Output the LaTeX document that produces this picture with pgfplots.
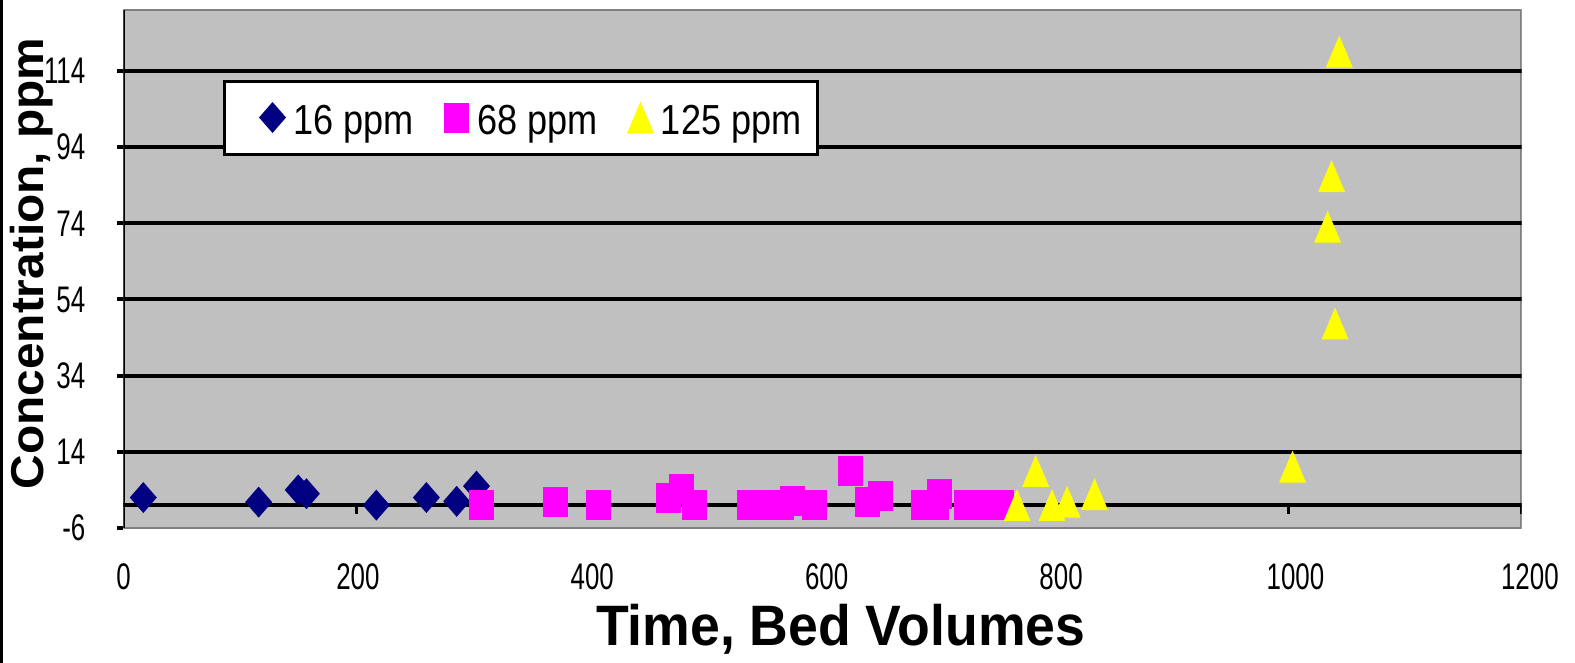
\documentclass[border=0pt]{standalone}
\usepackage{pgfplots}
\pgfplotsset{compat=1.18}
\usepackage{fontspec}
\setmainfont{Liberation Sans}
\newfontfamily\narrowfont[FakeStretch=0.7]{Liberation Sans}
\newfontfamily\legfont[FakeStretch=0.86]{Liberation Sans}
\newfontfamily\xtitlefont[FakeStretch=0.94]{Liberation Sans}
\newfontfamily\ytitlefont[FakeStretch=1.04]{Liberation Sans}

\definecolor{navyc}{RGB}{0,0,128}
\definecolor{magc}{RGB}{255,0,255}
\definecolor{yelc}{RGB}{255,255,0}
\definecolor{bgc}{RGB}{192,192,192}
\definecolor{bordc}{RGB}{128,128,128}

\pgfdeclareplotmark{xdiam}{%
  \pgfpathmoveto{\pgfpoint{0bp}{15.5bp}}%
  \pgfpathlineto{\pgfpoint{13.5bp}{0bp}}%
  \pgfpathlineto{\pgfpoint{0bp}{-15.5bp}}%
  \pgfpathlineto{\pgfpoint{-13.5bp}{0bp}}%
  \pgfpathclose\pgfusepathqfill}
\pgfdeclareplotmark{xsq}{%
  \pgfpathrectangle{\pgfpoint{-12.5bp}{-15bp}}{\pgfpoint{25bp}{30bp}}%
  \pgfusepathqfill}
\pgfdeclareplotmark{xtri}{%
  \pgfpathmoveto{\pgfpoint{0bp}{16bp}}%
  \pgfpathlineto{\pgfpoint{13.5bp}{-16bp}}%
  \pgfpathlineto{\pgfpoint{-13.5bp}{-16bp}}%
  \pgfpathclose\pgfusepathqfill}

\begin{document}
\begin{tikzpicture}
\begin{axis}[
  scale only axis, width=1398bp, height=518bp,
  xmin=0, xmax=1200, ymin=-6, ymax=130,
  xtick={0,200,400,600,800,1000,1200},
  xticklabels={0,200,400,600,800,1000,1200},
  ytick={-6,14,34,54,74,94,114},
  yticklabels={-6,14,34,54,74,94,114},
  axis line style={draw=none},
  axis background/.style={fill=bgc},
  tick align=outside,
  ytick pos=left, xtick pos=bottom,
  major tick length=6bp,
  xtick style={draw=none},
  ytick style={black, line width=4bp},
  xticklabel style={font=\narrowfont\fontsize{37bp}{39bp}\selectfont, inner sep=0pt, yshift=-29bp, xshift=1.4bp*\ticknum},
  yticklabel style={font=\narrowfont\fontsize{37bp}{39bp}\selectfont, inner sep=0pt, xshift=-32bp},
  xlabel={Time, Bed Volumes},
  ylabel={Concentration, ppm},
  every axis x label/.style={at={(axis description cs:0.513,-0.2259)}, anchor=base, inner sep=0pt, font=\xtitlefont\bfseries\fontsize{57bp}{59bp}\selectfont},
  every axis y label/.style={at={(axis description cs:-0.0572,0.5106)}, rotate=90, anchor=base, inner sep=0pt, font=\ytitlefont\bfseries\fontsize{46bp}{48bp}\selectfont},
  legend columns=3,
  legend style={at={(axis description cs:0.0712,0.8658)}, anchor=north west,
    draw=black, line width=3bp, fill=white, inner xsep=16bp, inner ysep=8bp,
    font=\legfont\fontsize{42bp}{44bp}\selectfont,
    nodes={inner sep=0pt, text height=45.5bp, text depth=11.5bp},
    cells={anchor=center},
    /tikz/every odd column/.append style={column sep=6.5bp},
    /tikz/every even column/.append style={column sep=11bp}},
  legend image code/.code={\path (-18bp,0bp) (25bp,0bp);
    \draw[mark repeat=2,mark phase=2,#1] plot coordinates {(0bp,0bp) (12.5bp,0bp) (25bp,0bp)};},
]
% frame and grid (under the markers)
\draw[bordc, line width=3bp] (rel axis cs:0,1) -- (rel axis cs:1,1) -- (rel axis cs:1,0) -- (rel axis cs:0,0);
\pgfplotsinvokeforeach{14,34,54,74,94,114}{\draw[black, line width=4bp] (axis cs:0,#1) -- (axis cs:1200,#1);}
\draw[black, line width=4bp] (axis cs:0,0) -- (axis cs:1200,0);
\pgfplotsinvokeforeach{200,400,600,800,1000,1200}{\draw[black, line width=3.5bp] (axis cs:#1,0) -- ++(0bp,-9bp);}
\draw[black, line width=4bp] (rel axis cs:0,0) -- (rel axis cs:0,1);

\addplot[only marks, mark=xdiam, color=navyc] coordinates {
(17,2) (116,0.8) (150,4) (157,3) (217,0) (260,2) (286,1) (303,5)
};
\addlegendentry{16 ppm}
\addplot[only marks, mark=xsq, color=magc] coordinates {
(307,0) (371,0.9) (408,0) (468,2) (479,4.3) (490,0)
(537,0) (553,0) (565,0) (574,1.1) (593,0)
(624,9) (639,0.8) (650,2.5)
(687,0) (698,0) (700,3)
(724,0) (739,0) (754,0)
};
\addlegendentry{68 ppm}
\addplot[only marks, mark=xtri, color=yelc] coordinates {
(767,0) (783,9) (797,0) (810,0.9) (833.5,2.9) (1003.5,10.1)
(1040,47.7) (1033.6,73.1) (1037,86.4) (1043.6,119.1)
};
\addlegendentry{125 ppm}
\end{axis}
\fill[black] (-123.5bp,-135bp) rectangle (-120.2bp,528bp);
\pgfresetboundingbox
\path[use as bounding box] (-123.5bp,-135bp) rectangle (1451.5bp,528bp);
\end{tikzpicture}
\end{document}
